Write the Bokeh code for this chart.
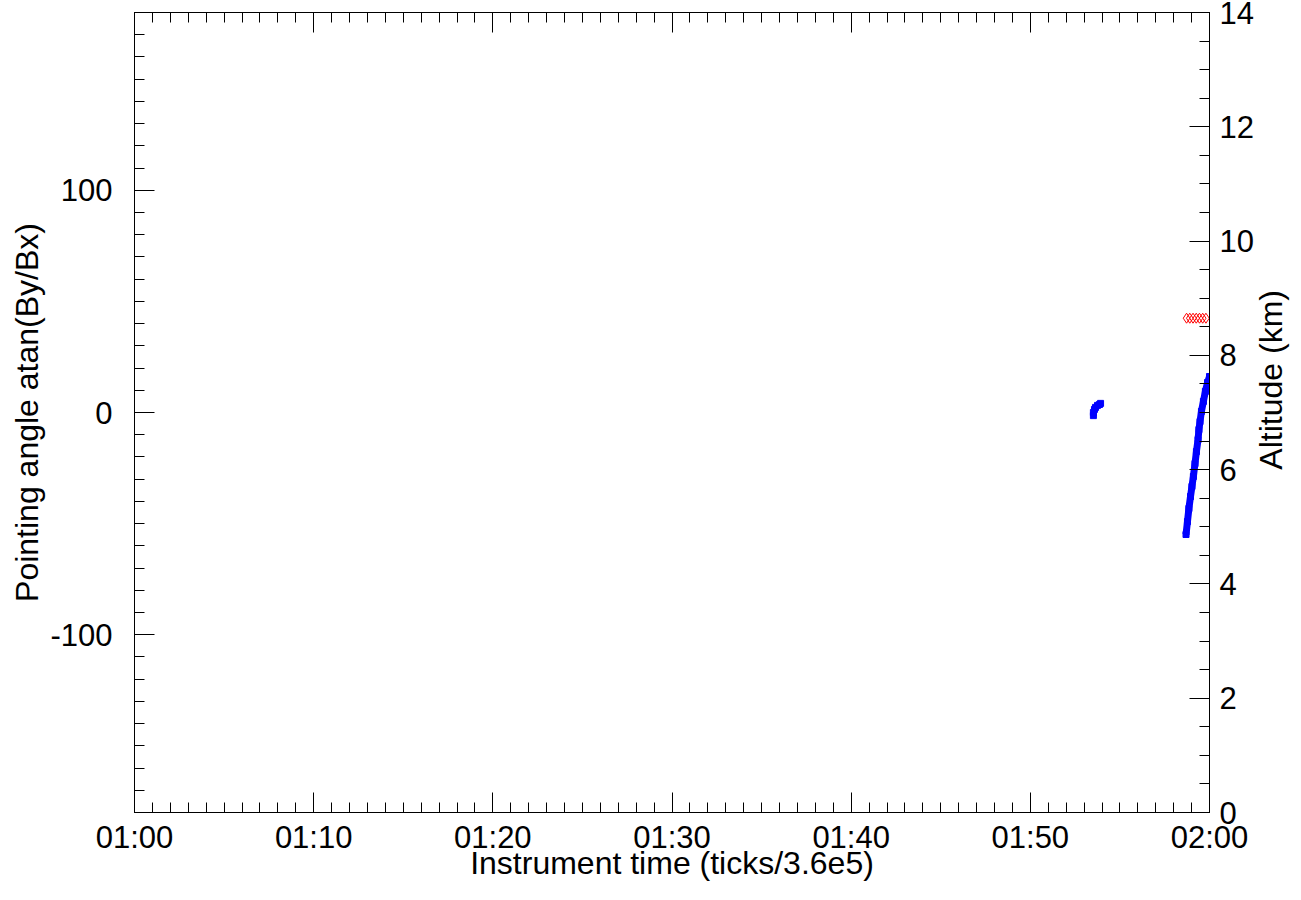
import math
from bokeh.plotting import figure
from bokeh.models import (Range1d, LinearAxis, FixedTicker, SingleIntervalTicker,
                          CustomJSTickFormatter, ColumnDataSource)
from bokeh.embed import file_html
from bokeh.resources import INLINE

# ---- data (time in minutes after 01:00; converted to hours below) ----
# blue: pointing angle (deg), first short burst
blue1_min = [53.52, 53.52, 53.58, 53.64, 53.75, 53.86, 53.92]
blue1_deg = [-1.4, 0.0, 1.4, 2.3, 3.2, 3.6, 4.1]
# blue: pointing angle (deg), second segment
blue2_min = [58.69, 58.77, 58.85, 58.94, 59.02, 59.10, 59.19, 59.27, 59.36,
             59.41, 59.47, 59.55, 59.66, 59.77, 59.89, 60.00]
blue2_deg = [-54.9, -49.1, -43.2, -37.8, -33.3, -28.8, -23.0, -17.6, -12.2,
             -7.7, -4.1, 0.5, 5.0, 9.5, 13.5, 16.2]
# red diamonds: altitude (km)
red_min = [58.72, 58.90, 59.08, 59.26, 59.44, 59.62, 59.80]
red_km = [8.65, 8.65, 8.65, 8.65, 8.65, 8.65, 8.65]

x_ticks_hours = [1 + i / 6 for i in range(7)]
x_minor_hours = [1 + i / 60 for i in range(61)]
y_major = [-100, 0, 100]
y_minor = list(range(-180, 181, 10))

def to_h(mins):
    return [1 + m / 60.0 for m in mins]

FONT = "Liberation Sans"
TICK_FS = "31px"
TITLE_FS = "32px"

p = figure(frame_width=1075, frame_height=800, output_backend="svg",
           toolbar_location=None, x_range=Range1d(1.0, 2.0),
           y_range=Range1d(-180, 180), min_border_left=134, min_border_top=12,
           min_border_right=88, min_border_bottom=70, x_axis_location=None,
           y_axis_location=None)
p.grid.visible = False
p.outline_line_color = "black"
p.outline_line_alpha = 1.0
p.background_fill_color = "white"
p.border_fill_color = "white"
p.extra_y_ranges = {"alt": Range1d(0, 14)}

def style(ax):
    ax.axis_line_color = "black"
    ax.major_tick_line_color = "black"
    ax.minor_tick_line_color = "black"
    ax.major_tick_in = 20
    ax.major_tick_out = 0
    ax.minor_tick_in = 10
    ax.minor_tick_out = 0
    ax.major_label_text_font = FONT
    ax.major_label_text_font_size = TICK_FS
    ax.major_label_text_color = "black"
    ax.major_label_text_line_height = 1.0
    ax.axis_label_text_font = FONT
    ax.axis_label_text_font_size = TITLE_FS
    ax.axis_label_text_font_style = "normal"
    ax.axis_label_text_color = "black"
    ax.axis_label_text_line_height = 1.0

fmt_time = CustomJSTickFormatter(code="""
const h = Math.floor(tick + 1e-6);
const m = Math.round((tick - h) * 60);
return String(h).padStart(2, '0') + ':' + String(m).padStart(2, '0');
""")
fmt_plain = CustomJSTickFormatter(code="return String(Math.round(tick));")
fmt_blank = CustomJSTickFormatter(code="return '';")

xb = LinearAxis(ticker=FixedTicker(ticks=x_ticks_hours, minor_ticks=x_minor_hours),
                formatter=fmt_time, axis_label="Instrument time (ticks/3.6e5)")
style(xb)
xb.major_label_standoff = 7
xb.axis_label_standoff = -13
p.add_layout(xb, "below")

xt = LinearAxis(ticker=FixedTicker(ticks=x_ticks_hours, minor_ticks=x_minor_hours),
                formatter=fmt_blank)
style(xt)
xt.major_label_text_font_size = "1px"
xt.major_label_standoff = 0
p.add_layout(xt, "above")

yl = LinearAxis(ticker=FixedTicker(ticks=y_major, minor_ticks=y_minor),
                formatter=fmt_plain, axis_label="Pointing angle atan(By/Bx)")
style(yl)
yl.major_label_standoff = 22
yl.axis_label_standoff = 2
p.add_layout(yl, "left")

yr = LinearAxis(y_range_name="alt", ticker=SingleIntervalTicker(interval=2, num_minor_ticks=4),
                formatter=fmt_plain)
style(yr)
yr.major_label_standoff = 10
p.add_layout(yr, "right")

# title for the altitude scale, drawn as a rotated label of an unmarked axis
# (reads bottom-to-top, starting level with the 6 km tick as in the original)
ALT_TITLE_AT = 6.0
yr_title = LinearAxis(y_range_name="alt", ticker=FixedTicker(ticks=[ALT_TITLE_AT], minor_ticks=[]),
                      formatter=CustomJSTickFormatter(code="return 'Altitude (km)';"))
style(yr_title)
yr_title.axis_line_color = None
yr_title.major_tick_line_color = None
yr_title.minor_tick_line_color = None
yr_title.major_tick_in = 0
yr_title.minor_tick_in = 0
yr_title.major_label_text_font_size = TITLE_FS
yr_title.major_label_standoff = 15
yr_title.major_label_orientation = math.pi / 2
p.add_layout(yr_title, "right")

s1 = ColumnDataSource(dict(x=to_h(blue1_min), y=blue1_deg))
s2 = ColumnDataSource(dict(x=to_h(blue2_min), y=blue2_deg))
s3 = ColumnDataSource(dict(x=to_h(red_min), y=red_km))

p.scatter("x", "y", source=s1, marker="square", size=6, color="blue")
p.line("x", "y", source=s2, line_width=7, color="blue")
p.scatter("x", "y", source=s2, marker="square", size=6, color="blue")
p.scatter("x", "y", source=s3, marker="diamond", size=10, fill_color=None,
          line_color="red", line_width=1, y_range_name="alt")

open("out.html", "w").write(file_html(p, INLINE))
